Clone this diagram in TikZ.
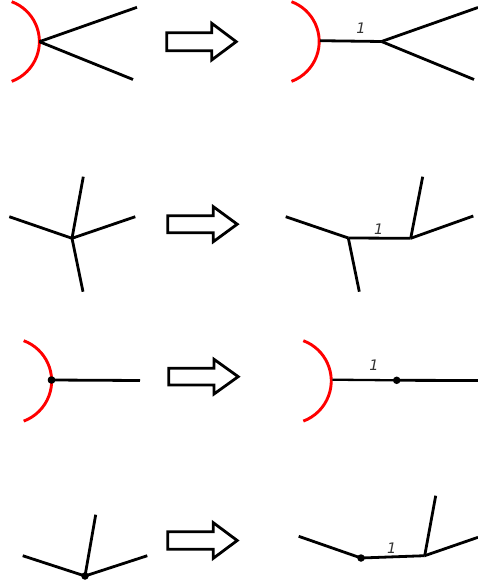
\documentclass[tikz,border=0pt]{standalone}
\usepackage{fontspec}
\setmainfont{DejaVu Sans}
\tikzset{
  edgeline/.style={draw=black,line width=2.8pt},
  thinedge/.style={draw=black,line width=2.3pt},
  redarc/.style={draw=red,line width=2.9pt},
  hollowarrow/.style={draw=black,line width=2.8pt,fill=white,miter limit=10},
  dotnode/.style={circle,fill=black,inner sep=0pt,minimum size=7.5pt},
  lengthlabel/.style={inner sep=0pt,text=black!80,font=\fontsize{14.5}{14.5}\selectfont\itshape}
}
\newcommand{\blockarrow}[6]{% left, top, bottom, headx, headtop, headbottom -> tip follows
  \draw[hollowarrow] (#1,#2) -- (#4,#2) -- (#4,#5) -- (#1+69.5,#2/2+#3/2) -- (#4,#6) -- (#4,#3) -- (#1,#3) -- cycle;}
\begin{document}
\begin{tikzpicture}[x=1pt,y=-1pt]
\useasboundingbox (0,0) rectangle (478,583);
% Row 1
\coordinate (a0) at (11.7,1.7);
\coordinate (a1) at (39.4,41.7);
\coordinate (a2) at (137,7.3);
\coordinate (a3) at (133,79.5);
\draw[redarc] (a0) arc[start angle=69.6,end angle=-69.6,radius=42.5pt];
\draw[edgeline] (a1) -- (a2);
\draw[edgeline] (a1) -- (a3);
\blockarrow{166.7}{32.7}{50.7}{211.7}{23.3}{60}
\coordinate (b0) at (291.5,1.7);
\coordinate (b1) at (320,40.7);
\coordinate (b2) at (381.5,41.5);
\coordinate (b3) at (478,7.5);
\coordinate (b4) at (474,79.5);
\draw[redarc] (b0) arc[start angle=69.6,end angle=-69.6,radius=42.5pt];
\draw[edgeline] (b1) -- (b2);
\draw[edgeline] (b2) -- (b3);
\draw[edgeline] (b2) -- (b4);
\node[lengthlabel] (l1) at (361,28) {1};
% Row 2
\coordinate (c0) at (72,238.3);
\coordinate (c1) at (83.3,176.7);
\coordinate (c2) at (9.3,216.7);
\coordinate (c3) at (135.3,216.7);
\coordinate (c4) at (83,291.7);
\draw[edgeline] (c0) -- (c1);
\draw[edgeline] (c0) -- (c2);
\draw[edgeline] (c0) -- (c3);
\draw[edgeline] (c0) -- (c4);
\blockarrow{167.7}{215.7}{232.7}{213.3}{206.7}{241.7}
\coordinate (d0) at (348.3,238);
\coordinate (d1) at (410.7,238.3);
\coordinate (d2) at (285.7,216.7);
\coordinate (d3) at (359.3,291.7);
\coordinate (d4) at (422.7,176.7);
\coordinate (d5) at (473.3,216);
\draw[edgeline] (d0) -- (d1);
\draw[edgeline] (d0) -- (d2);
\draw[edgeline] (d0) -- (d3);
\draw[edgeline] (d1) -- (d4);
\draw[edgeline] (d1) -- (d5);
\node[lengthlabel] (l2) at (378.7,229.3) {1};
% Row 3
\coordinate (e0) at (23.7,340.7);
\node[dotnode] (e1) at (51.5,380) {};
\coordinate (e2) at (140,380.5);
\draw[redarc] (e0) arc[start angle=69.6,end angle=-69.6,radius=42.9pt];
\draw[edgeline] (e1.center) -- (e2);
\node[dotnode] at (e1) {};
\blockarrow{168.7}{368.3}{385}{214}{359.3}{394}
\coordinate (f0) at (303.3,340.7);
\coordinate (f1) at (332.3,379.7);
\node[dotnode] (f2) at (396.7,380.3) {};
\coordinate (f3) at (478,380.5);
\draw[redarc] (f0) arc[start angle=69.6,end angle=-69.6,radius=42.9pt];
\draw[thinedge] (f1) -- (f2.center);
\draw[edgeline] (f2.center) -- (f3);
\node[lengthlabel] (l3) at (374,365.7) {1};
% Row 4
\node[dotnode] (g0) at (85,576) {};
\coordinate (g1) at (95.7,514.7);
\coordinate (g2) at (22.7,555.7);
\coordinate (g3) at (147.3,555.7);
\draw[edgeline] (g0.center) -- (g1);
\draw[edgeline] (g0.center) -- (g2);
\draw[edgeline] (g0.center) -- (g3);
\blockarrow{167.7}{531.7}{549.3}{213.3}{522.7}{558.3}
\node[dotnode] (h0) at (361,558) {};
\coordinate (h1) at (424.7,555.7);
\coordinate (h2) at (298.7,536.3);
\coordinate (h3) at (435.7,495.7);
\coordinate (h4) at (478,537.3);
\draw[edgeline] (h0.center) -- (h1);
\draw[edgeline] (h0.center) -- (h2);
\draw[edgeline] (h1) -- (h3);
\draw[edgeline] (h1) -- (h4);
\node[lengthlabel] (l4) at (391.7,548.3) {1};
\end{tikzpicture}
\end{document}
